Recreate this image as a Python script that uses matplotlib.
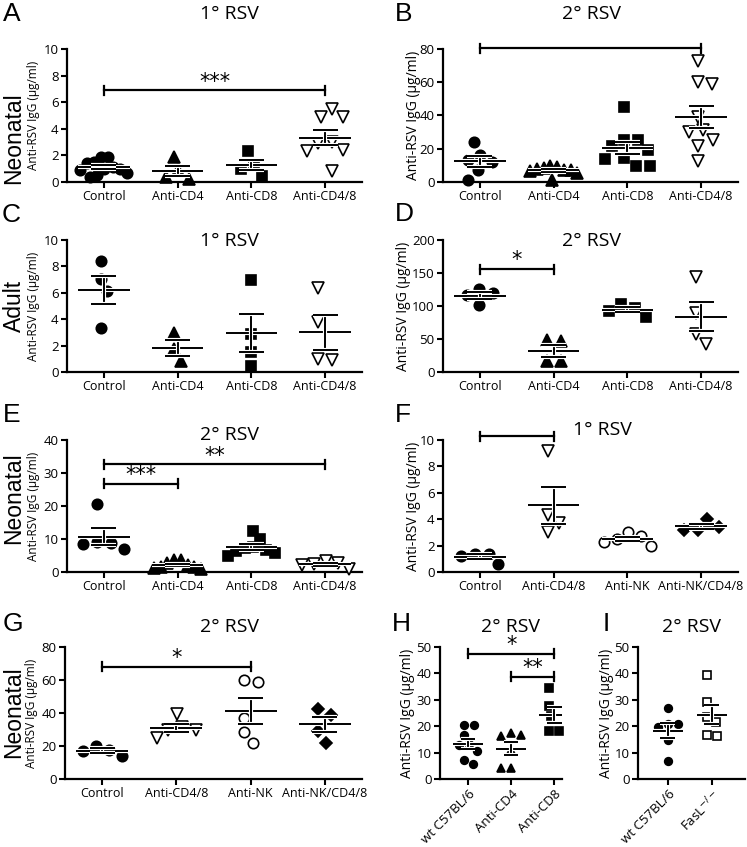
import numpy as np
import matplotlib
matplotlib.use("Agg")
import matplotlib.pyplot as plt
import matplotlib.patheffects as pe

W, H = 747, 847
plt.rcParams['font.family'] = ['Open Sans', 'DejaVu Sans']

# ---- data (anti-RSV IgG, ug/ml) ----
cd_groups = ['Control', 'Anti-CD4', 'Anti-CD8', 'Anti-CD4/8']
nk_groups = ['Control', 'Anti-CD4/8', 'Anti-NK', 'Anti-NK/CD4/8']
h_groups = ['wt C57BL/6', 'Anti-CD4', 'Anti-CD8']
i_groups = ['wt C57BL/6', r'FasL$^{-/-}$']

a_control = [1.9, 1.85, 1.5, 1.45, 1.1, 1.0, 0.95, 0.9, 0.7, 0.5, 0.4]
a_cd4 = [1.9, 0.9, 0.35, 0.25]
a_cd8 = [2.3, 1.35, 1.0, 0.45]
a_cd48 = [5.5, 4.9, 4.85, 3.0, 2.95, 2.4, 2.3, 0.8]

b_control = [24, 16.5, 13, 12, 7.5, 1.5]
b_cd4 = [9.5, 9, 8.5, 8, 7.5, 7, 6.5, 5.5, 1.5]
b_cd8 = [45, 25.5, 25.5, 21.5, 19.5, 14.5, 14.0, 9.8, 9.5]
b_cd48 = [73, 60, 59, 39, 31, 30, 25.5, 21.5, 12.5]

c_control = [8.4, 7.05, 6.1, 3.3]
c_cd4 = [2.95, 1.75, 0.8]
c_cd8 = [7.0, 2.9, 1.55, 0.45]
c_cd48 = [6.4, 3.75, 0.95, 0.9]

d_control = [125, 120, 116, 102]
d_cd4 = [49, 47, 17, 16]
d_cd8 = [103, 97, 93, 84]
d_cd48 = [144, 90, 58, 43]

e_control = [20.5, 9.0, 8.7, 8.5, 7.0]
e_cd4 = [3.7, 3.6, 2.8, 2.2, 1.6, 1.5, 1.2, 1.0]
e_cd8 = [12.3, 9.9, 7.5, 7.3, 6.8, 6.3, 5.8, 4.9]
e_cd48 = [3.4, 2.7, 2.4, 2.2, 1.0]

f_control = [1.4, 1.4, 1.2, 0.6]
f_cd48 = [9.2, 4.3, 3.7, 3.0]
f_nk = [3.0, 2.7, 2.5, 2.3, 2.0]
f_nkcd48 = [4.0, 3.4, 3.2, 3.2]

g_control = [20.3, 17.8, 16.8, 14]
g_cd48 = [39.5, 31.5, 30, 29.5, 25]
g_nk = [60, 58.5, 37, 28.3, 21.7]
g_nkcd48 = [42.5, 39, 29, 22]

h_wt = [20.6, 20.3, 16.5, 13.2, 12.8, 10.5, 7.3, 5.5]
h_cd4 = [17.5, 16.5, 16.3, 11, 4.0, 4.0]
h_cd8 = [34.3, 27.5, 23.7, 18.3, 18.3]

i_wt = [26.9, 21, 20.8, 19.8, 14.8, 6.7]
i_fasl = [39.3, 29.3, 23.4, 21.7, 16.5, 16.2]

fig = plt.figure(figsize=(W / 100, H / 100), dpi=100)


def px_rect(left, top, right, bottom):
    return [left / W, 1 - bottom / H, (right - left) / W, (bottom - top) / H]


def swarm(vals, xscale, yscale, d, max_half=0.32):
    # beeswarm spread (offsets returned in category units), squeezed to fit
    vals = np.asarray(vals, float)
    order = sorted(range(len(vals)), key=lambda i: -vals[i])
    placed = []
    offs = np.zeros(len(vals))
    side = -1
    for i in order:
        y = vals[i] * yscale
        cands = [0.0]
        for px, py in placed:
            dy = abs(py - y)
            if dy < d:
                dx = np.sqrt(d * d - dy * dy)
                cands += [px - dx, px + dx]
        cands.sort(key=lambda c: (round(abs(c), 3), c * side))
        for c in cands:
            if all((c - px) ** 2 + (y - py) ** 2 >= d * d - 1e-6 for px, py in placed):
                break
        if c != 0:
            side = -np.sign(c)
        placed.append((c, y))
        offs[i] = c / xscale
    offs -= (offs.max() + offs.min()) / 2
    widest = np.abs(offs).max()
    if widest > max_half:
        offs *= max_half / widest
    return offs


def panel(rect, groups, data, markers, ylim, yticks, xlim=(-0.5, 3.5), ms=7.5,
          ylab_size=8.5, ylab_x=-0.09, rot=0, xlab_size=9):
    ax = fig.add_axes(px_rect(*rect))
    wpx = rect[2] - rect[0]
    hpx = rect[3] - rect[1]
    xs = wpx / (xlim[1] - xlim[0])
    ys = hpx / (ylim[1] - ylim[0])
    for k, (vals, (mk, filled)) in enumerate(zip(data, markers)):
        size = ms * (1.12 if mk in '^v' else 0.8 if mk == 'D' else 1.0)
        d = ms * 1.389 * 1.35
        offs = swarm(vals, xs, ys, d)
        ax.plot(k + offs, vals, ls='none', marker=mk, ms=size,
                mfc='black' if filled else 'white', mec='black', mew=1.2,
                clip_on=False, zorder=3)
        m = np.mean(vals)
        s = np.std(vals, ddof=1) / np.sqrt(len(vals))
        st = [pe.withStroke(linewidth=3, foreground='white')]
        lk = dict(color='black', lw=1.4, zorder=4, path_effects=st, solid_capstyle='butt')
        ax.plot([k - 0.35, k + 0.35], [m, m], **lk)
        ax.plot([k, k], [m - s, m + s], **lk)
        for v in (m - s, m + s):
            ax.plot([k - 0.17, k + 0.17], [v, v], **lk)
    ax.set_xlim(*xlim)
    ax.set_ylim(*ylim)
    ax.set_yticks(yticks)
    ax.set_xticks(range(len(groups)))
    if rot:
        ax.set_xticklabels(groups, rotation=rot, ha='right', rotation_mode='anchor')
    else:
        ax.set_xticklabels(groups)
    for sp in ('top', 'right'):
        ax.spines[sp].set_visible(False)
    for sp in ('left', 'bottom'):
        ax.spines[sp].set_linewidth(1.6)
    ax.tick_params(direction='out', length=4, width=1.5, labelsize=9.5, pad=2)
    ax.tick_params(axis='x', labelsize=xlab_size)
    ax.set_ylabel('Anti-RSV IgG (μg/ml)', fontsize=ylab_size)
    ax.yaxis.set_label_coords(ylab_x, 0.5)
    ax.patch.set_visible(False)
    return ax, ys


def sig(ax, ys, x1, x2, y, text):
    cap = 4.5 / ys
    kw = dict(color='black', lw=1.6, clip_on=False, zorder=5)
    ax.plot([x1, x2], [y, y], **kw)
    ax.plot([x1, x1], [y - cap, y + cap], **kw)
    ax.plot([x2, x2], [y - cap, y + cap], **kw)
    ax.annotate(text, ((x1 + x2) / 2, y), xytext=(0, -1), textcoords='offset points',
                ha='center', va='bottom', fontsize=15, family='DejaVu Sans')


def ftext(x, y, s, **kw):
    fig.text(x / W, 1 - y / H, s, **kw)


cd_mk = [('o', True), ('^', True), ('s', True), ('v', False)]
nk_mk = [('o', True), ('v', False), ('o', False), ('D', True)]

ax, ys = panel((67, 49, 362, 182), cd_groups, [a_control, a_cd4, a_cd8, a_cd48], cd_mk,
               (0, 10), range(0, 11, 2))
sig(ax, ys, 0, 3, 6.9, '***')
ax, ys = panel((443, 49, 738, 182), cd_groups, [b_control, b_cd4, b_cd8, b_cd48], cd_mk,
               (0, 80), range(0, 81, 20), ylab_size=10, ylab_x=-0.075)
sig(ax, ys, 0, 3, 80.5, '*')
ax, ys = panel((67, 240, 362, 372), cd_groups, [c_control, c_cd4, c_cd8, c_cd48], cd_mk,
               (0, 10), range(0, 11, 2))
ax, ys = panel((443, 240, 738, 372), cd_groups, [d_control, d_cd4, d_cd8, d_cd48], cd_mk,
               (0, 200), range(0, 201, 50), ylab_size=10, ylab_x=-0.11)
sig(ax, ys, 0, 1, 156, '*')
ax, ys = panel((67, 440, 362, 572), cd_groups, [e_control, e_cd4, e_cd8, e_cd48], cd_mk,
               (0, 40), range(0, 41, 10))
sig(ax, ys, 0, 1, 26.7, '***')
sig(ax, ys, 0, 3, 32.6, '**')
ax, ys = panel((443, 440, 738, 572), nk_groups, [f_control, f_cd48, f_nk, f_nkcd48], nk_mk,
               (0, 10), range(0, 11, 2), ylab_size=10, ylab_x=-0.075)
sig(ax, ys, 0, 1, 10.3, '*')
ax, ys = panel((65, 647, 362, 779), nk_groups, [g_control, g_cd48, g_nk, g_nkcd48], nk_mk,
               (0, 80), range(0, 81, 20))
sig(ax, ys, 0, 2, 68, '*')
ax, ys = panel((440, 647, 562, 779), h_groups, [h_wt, h_cd4, h_cd8],
               [('o', True), ('^', True), ('s', True)], (0, 50), range(0, 51, 10),
               xlim=(-0.65, 2.18), ms=5.5, ylab_size=10, ylab_x=-0.205, rot=45,
               xlab_size=9.5)
sig(ax, ys, 0, 2, 47.5, '*')
sig(ax, ys, 1, 2, 38.7, '**')
ax, ys = panel((638, 647, 745, 779), i_groups, [i_wt, i_fasl],
               [('o', True), ('s', False)], (0, 50), range(0, 51, 10),
               xlim=(-0.68, 1.75), ms=5.5, ylab_size=10, ylab_x=-0.224, rot=45,
               xlab_size=9.5)

# titles
for x, y, s in [(229, 14, '1° RSV'), (592, 14, '2° RSV'), (229, 241, '1° RSV'),
                (592, 241, '2° RSV'), (229, 435, '2° RSV'), (602, 430, '1° RSV'),
                (229, 627, '2° RSV'), (511, 627, '2° RSV'), (692, 627, '2° RSV')]:
    ftext(x, y, s, ha='center', va='center', fontsize=14)

# panel letters
for x, y, s in [(3, 14, 'A'), (395, 14, 'B'), (2, 215, 'C'), (395, 214, 'D'),
                (3, 415, 'E'), (395, 415, 'F'), (3, 624, 'G'), (392, 624, 'H'),
                (603, 624, 'I')]:
    ftext(x, y, s, ha='left', va='center', fontsize=19, family='Liberation Sans')

# row labels
for y, s in [(138, 'Neonatal'), (306, 'Adult'), (498, 'Neonatal'), (712, 'Neonatal')]:
    ftext(14, y, s, ha='center', va='center', rotation=90, fontsize=16.5,
          family='Liberation Sans')

fig.savefig('out.png', dpi=100)
